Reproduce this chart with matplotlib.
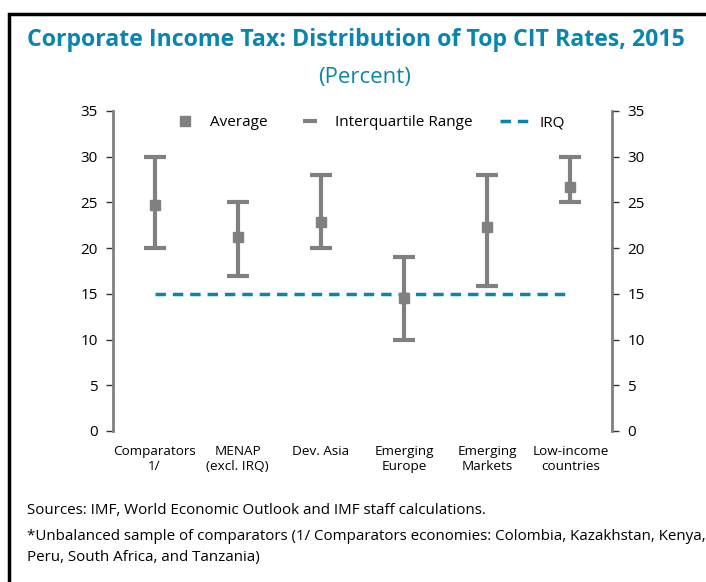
import numpy as np
import matplotlib
matplotlib.use("Agg")
from matplotlib import pyplot as plt
from matplotlib.patches import Rectangle
from matplotlib.lines import Line2D

plt.rcParams['font.family'] = ['Open Sans', 'DejaVu Sans']

categories = ["Comparators\n1/", "MENAP\n(excl. IRQ)", "Dev. Asia",
              "Emerging\nEurope", "Emerging\nMarkets", "Low-income\ncountries"]
average = [24.7, 21.2, 22.9, 14.5, 22.3, 26.7]
q_low = [20, 17, 20, 10, 15.9, 25]
q_high = [30, 25, 28, 19, 28, 30]
irq = [15, 15, 15, 15, 15, 15]

grey = "#808080"
blue = "#0A86AE"

fig = plt.figure(figsize=(7.06, 5.82), dpi=100)
ax = fig.add_axes([113/706, 1-431/582, 499/706, 320/582])

x = np.arange(len(categories))
avg = np.array(average)
lo = avg - np.array(q_low)
hi = np.array(q_high) - avg
ax.errorbar(x, avg, yerr=[lo, hi], fmt='none', ecolor=grey, elinewidth=3,
            capsize=8, capthick=3, zorder=2)
ax.plot(x, avg, 's', color=grey, markersize=7.5, zorder=3)
ax.plot(x, irq, '--', color=blue, lw=2.5, dashes=(3, 2), zorder=1)

ax.set_xlim(-0.5, 5.5)
ax.set_ylim(0, 35)
ax.set_yticks(range(0, 36, 5))
ax.set_xticks(x)
ax.set_xticklabels(categories, fontsize=9.7, linespacing=1.25)
ax.tick_params(axis='x', length=0, pad=10)
ax.tick_params(axis='y', labelsize=11, length=5, width=1, color='#333333',
               labelright=True, right=True, pad=6)
for s in ['top', 'bottom']:
    ax.spines[s].set_visible(False)
for s in ['left', 'right']:
    ax.spines[s].set_color(grey)
    ax.spines[s].set_linewidth(2)

handles = [Line2D([], [], marker='s', ls='none', color=grey, markersize=7),
           Line2D([], [], marker='_', ls='none', color=grey, markersize=10, markeredgewidth=3),
           Line2D([], [], ls='--', color=blue, lw=2.5, dashes=(3, 2))]
ax.legend(handles, ["Average", "Interquartile Range", "IRQ"], ncol=3,
          loc='upper center', bbox_to_anchor=(0.51, 1.03), frameon=False,
          fontsize=11, handlelength=2, columnspacing=1.8, handletextpad=0.6)

fig.text(27/706, 1-40/582, "Corporate Income Tax: Distribution of Top CIT Rates, 2015",
         fontsize=16.7, fontweight='bold', color=blue, va='center', ha='left')
fig.text(365/706, 1-78/582, "(Percent)", fontsize=16, color=blue, va='center', ha='center')

fig.text(27/706, 1-511/582, "Sources: IMF, World Economic Outlook and IMF staff calculations.",
         fontsize=10.9, va='center')
fig.text(27/706, 1-536/582,
         "*Unbalanced sample of comparators (1/ Comparators economies: Colombia, Kazakhstan, Kenya,",
         fontsize=10.9, va='center')
fig.text(27/706, 1-557/582, "Peru, South Africa, and Tanzania)", fontsize=10.9, va='center')

fig.patches.append(Rectangle((9/706, -0.1), 1.2, 1 - 14/582 + 0.1,
                             transform=fig.transFigure, fill=False, ec='black', lw=2.5))

fig.savefig("out.png", dpi=100)
